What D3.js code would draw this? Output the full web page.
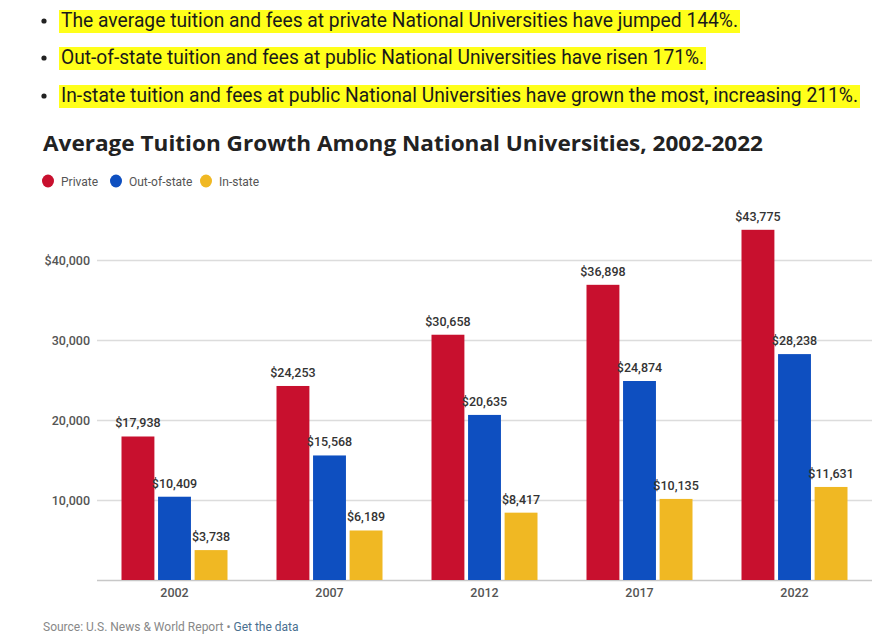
<!DOCTYPE html>
<html><head><meta charset="utf-8">
<script src="https://cdn.jsdelivr.net/npm/d3@7"></script>
<style>
body{margin:0;background:#fff;}
svg{display:block;}
</style></head>
<body>
<svg id="chart" width="886" height="640"></svg>
<script>
const bullets = [
  "The average tuition and fees at private National Universities have jumped 144%.",
  "Out-of-state tuition and fees at public National Universities have risen 171%.",
  "In-state tuition and fees at public National Universities have grown the most, increasing 211%."
];
const title = "Average Tuition Growth Among National Universities, 2002-2022";
const years = ["2002", "2007", "2012", "2017", "2022"];
const seriesNames = ["Private", "Out-of-state", "In-state"];
const privateVals = [17938, 24253, 30658, 36898, 43775];
const outStateVals = [10409, 15568, 20635, 24874, 28238];
const inStateVals = [3738, 6189, 8417, 10135, 11631];
const yTicks = [0, 10000, 20000, 30000, 40000];
const yTickLabels = ["", "10,000", "20,000", "30,000", "$40,000"];
const colors = ["#c8102e", "#0e4fc0", "#f0b823"];
const source = "Source: U.S. News & World Report";
const linkText = "Get the data";

const svg = d3.select("#chart");
const seriesVals = [privateVals, outStateVals, inStateVals];

// Bullets
const bulletEnds = [738, 704, 858];
const bulletY = [20, 57, 95];
bullets.forEach((t, i) => {
  svg.append("rect").attr("x", 59).attr("y", bulletY[i] - 10).attr("width", bulletEnds[i] - 59 + 2).attr("height", 23).attr("fill", "#ffff1a");
  svg.append("circle").attr("cx", 44).attr("cy", bulletY[i] + 1).attr("r", 2.6).attr("fill", "#222");
  svg.append("text").attr("x", 61).attr("y", bulletY[i] + 7)
    .attr("font-family", "Roboto, sans-serif").attr("font-size", 19.5).attr("fill", "#1a1a1a")
    .attr("textLength", bulletEnds[i] - 61).attr("lengthAdjust", "spacingAndGlyphs")
    .text(t);
});

// Title
svg.append("text").attr("x", 43).attr("y", 151)
  .attr("font-family", "'Open Sans', sans-serif").attr("font-weight", 700).attr("font-size", 21)
  .attr("fill", "#222").attr("textLength", 720).attr("lengthAdjust", "spacingAndGlyphs").text(title);

// Legend
const legendX = [48, 116, 206];
seriesNames.forEach((s, i) => {
  svg.append("ellipse").attr("cx", legendX[i]).attr("cy", 181).attr("rx", 6).attr("ry", 6.5).attr("fill", colors[i]);
  svg.append("text").attr("x", legendX[i] + 13).attr("y", 185.5)
    .attr("font-family", "Roboto, sans-serif").attr("font-size", 12).attr("fill", "#555").text(s);
});

// Scales
const plotLeft = 97, plotRight = 872, plotTop = 180, plotBottom = 580;
const y = d3.scaleLinear().domain([0, 50000]).range([plotBottom, plotTop]);
const x0 = d3.scaleBand().domain(years).range([plotLeft, plotRight]).padding(0);
const x1 = d3.scaleBand().domain(seriesNames).range([24.5, 130.5]).paddingInner(0.1);

// Grid / y axis
const yAxis = d3.axisLeft(y).tickValues(yTicks).tickSize(-(plotRight - plotLeft)).tickFormat((d, i) => yTickLabels[i]);
const gy = svg.append("g").attr("transform", `translate(${plotLeft},0)`).call(yAxis);
gy.select(".domain").remove();
gy.selectAll(".tick line").attr("stroke", "#dcdcdc").attr("stroke-width", 1.3);
gy.selectAll(".tick").filter(d => d === 0).select("line").attr("stroke", "#c8c8c8");
gy.selectAll(".tick text").attr("x", -7).attr("dy", "0.32em")
  .attr("font-family", "Roboto, sans-serif").attr("font-weight", 500).attr("font-size", 12.5).attr("fill", "#555");

// Bars
const data = years.map((yr, i) => ({ yr, vals: seriesNames.map((s, j) => ({ s, j, v: seriesVals[j][i] })) }));
const groups = svg.selectAll("g.grp").data(data).join("g").attr("class", "grp")
  .attr("transform", d => `translate(${x0(d.yr)},0)`);
groups.selectAll("rect").data(d => d.vals).join("rect")
  .attr("x", d => x1(d.s)).attr("width", x1.bandwidth())
  .attr("y", d => y(d.v)).attr("height", d => y(0) - y(d.v))
  .attr("fill", d => colors[d.j]);
groups.selectAll("text.val").data(d => d.vals).join("text").attr("class", "val")
  .attr("x", d => x1(d.s) + x1.bandwidth() / 2).attr("y", d => y(d.v) - 9)
  .attr("text-anchor", "middle").attr("font-family", "Roboto, sans-serif").attr("font-weight", 500)
  .attr("font-size", 12.5).attr("fill", "#333")
  .text(d => "$" + d3.format(",")(d.v));

// X axis
const xAxis = d3.axisBottom(x0).tickSize(0).tickPadding(8);
const gx = svg.append("g").attr("transform", `translate(0,${plotBottom})`).call(xAxis);
gx.select(".domain").remove();
gx.selectAll(".tick text").attr("font-family", "Roboto, sans-serif").attr("font-weight", 500)
  .attr("font-size", 12.5).attr("fill", "#555");

// Source
const src = svg.append("text").attr("x", 43).attr("y", 631)
  .attr("font-family", "Roboto, sans-serif").attr("font-size", 12).attr("fill", "#888");
src.append("tspan").text(source + " • ");
src.append("tspan").attr("fill", "#4a6f8f").text(linkText);
</script>
</body></html>
